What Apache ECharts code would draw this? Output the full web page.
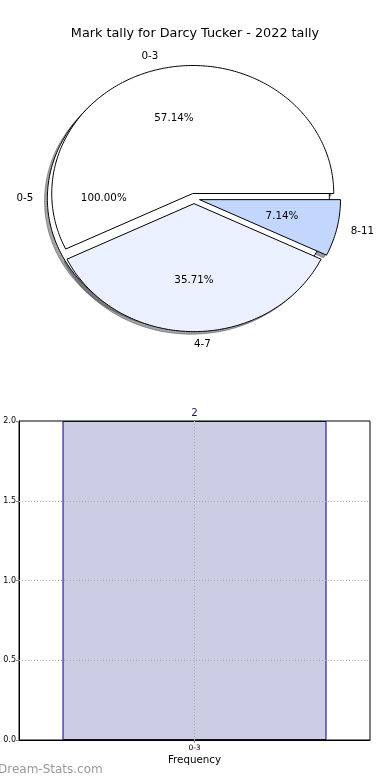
<!DOCTYPE html>
<html><head><meta charset="utf-8">
<script src="https://cdn.jsdelivr.net/npm/echarts@6/dist/echarts.min.js"></script>
<style>html,body{margin:0;padding:0;background:#fff}#c{width:390px;height:780px}</style>
</head><body><div id="c"></div>
<script>
// ---- data ----
const titleText = 'Mark tally for Darcy Tucker - 2022 tally';
const outerCategories = ['0-5'];
const outerValues = [1];
const innerCategories = ['0-3', '4-7', '8-11'];
const innerValues = [8, 5, 1];
const barCategories = ['0-3'];
const barValues = [2];
const yTicks = [0, 0.5, 1.0, 1.5, 2.0];
const watermark = 'Dream-Stats.com';

// ---- styles ----
const outerColors = ['#ffffff'];
const innerColors = ['#ffffff', '#eaf0fd', '#c3d6fd'];
const FONT = 'DejaVu Sans';
const EXPLODE = 0.04;
const PIE_FS = 10.3;

function buildSlices(cats, vals, colors) {
  const total = vals.reduce((a, b) => a + b, 0);
  let cum = 0;
  return vals.map((v, i) => {
    const s = cum / total; cum += v; const e = cum / total;
    return { s: s, e: e, pct: v / total * 100, name: cats[i], color: colors[i] };
  });
}
const slices = buildSlices(outerCategories, outerValues, outerColors)
  .concat(buildSlices(innerCategories, innerValues, innerColors));
const sliceData = slices.map(d => [d.s, d.e]);

function geom(idx) {
  const d = slices[idx];
  const t1 = d.s * 2 * Math.PI, t2 = d.e * 2 * Math.PI, tm = (t1 + t2) / 2;
  return { t1, t2, tm, cx: EXPLODE * Math.cos(tm), cy: EXPLODE * Math.sin(tm), full: (d.e - d.s) > 0.999999 };
}
function wedgePoints(api, g, ox, oy) {
  const pts = [];
  const n = Math.max(8, Math.ceil((g.t2 - g.t1) / (Math.PI / 180)));
  if (!g.full) pts.push(api.coord([g.cx + ox, g.cy + oy]));
  for (let k = 0; k <= n; k++) {
    const t = g.t1 + (g.t2 - g.t1) * k / n;
    pts.push(api.coord([g.cx + ox + Math.cos(t), g.cy + oy + Math.sin(t)]));
  }
  return pts;
}
function shadowColor(hex) {
  const r = parseInt(hex.slice(1, 3), 16), gg = parseInt(hex.slice(3, 5), 16), b = parseInt(hex.slice(5, 7), 16);
  return 'rgba(' + Math.round(r * 0.3) + ',' + Math.round(gg * 0.3) + ',' + Math.round(b * 0.3) + ',0.5)';
}

const chart = echarts.init(document.getElementById('c'), null, { renderer: 'canvas' });
const option = {
  animation: false,
  backgroundColor: '#ffffff',
  title: {
    text: titleText, left: 'center', top: 22,
    textStyle: { fontFamily: FONT, fontSize: 12.8, fontWeight: 'normal', color: '#000' }
  },
  graphic: [{
    type: 'text', left: -2, top: 764,
    style: { text: watermark, fontFamily: FONT, fontSize: 12, fill: '#999999' }
  }],
  grid: [
    { left: 10.7, top: 32.1, width: 366.6, height: 332.8, show: false },
    { left: 19, top: 421, width: 351, height: 319, show: true, borderColor: '#000', borderWidth: 1, backgroundColor: 'transparent' }
  ],
  xAxis: [
    { gridIndex: 0, type: 'value', min: -1.3, max: 1.3, show: false },
    {
      gridIndex: 1, type: 'category', data: barCategories,
      axisLine: { show: true, lineStyle: { color: '#000', width: 1 } },
      axisTick: { show: true, alignWithLabel: true, length: 3, lineStyle: { color: '#888' } },
      axisLabel: { fontFamily: FONT, fontSize: 7.5, color: '#000', margin: 4 },
      splitLine: { show: false },
      name: 'Frequency', nameLocation: 'middle', nameGap: 15,
      nameTextStyle: { fontFamily: FONT, fontSize: 10.3, color: '#000' }
    }
  ],
  yAxis: [
    { gridIndex: 0, type: 'value', min: -1.3, max: 1.3, show: false },
    {
      gridIndex: 1, type: 'value', min: yTicks[0], max: yTicks[yTicks.length - 1], interval: yTicks[1] - yTicks[0],
      axisLine: { show: true, lineStyle: { color: '#000', width: 1 } },
      axisTick: { show: true, length: 3, lineStyle: { color: '#888' } },
      axisLabel: { fontFamily: FONT, fontSize: 8, color: '#000', margin: 3, formatter: v => v.toFixed(1) },
      splitLine: { show: false }
    }
  ],
  series: [
    {
      type: 'custom', name: 'shadows', coordinateSystem: 'cartesian2d', xAxisIndex: 0, yAxisIndex: 0,
      clip: false, silent: true, z: 1, data: sliceData,
      renderItem: function (params, api) {
        const g = geom(params.dataIndex);
        const c = shadowColor(slices[params.dataIndex].color);
        return { type: 'polygon', shape: { points: wedgePoints(api, g, -0.02, -0.02) },
          style: { fill: c, stroke: c, lineWidth: 1 } };
      }
    },
    {
      type: 'custom', name: 'wedges', coordinateSystem: 'cartesian2d', xAxisIndex: 0, yAxisIndex: 0,
      clip: false, silent: true, z: 2, data: sliceData,
      renderItem: function (params, api) {
        const g = geom(params.dataIndex);
        return { type: 'polygon', shape: { points: wedgePoints(api, g, 0, 0) },
          style: { fill: slices[params.dataIndex].color, stroke: '#000', lineWidth: 1 } };
      }
    },
    {
      type: 'custom', name: 'labels', coordinateSystem: 'cartesian2d', xAxisIndex: 0, yAxisIndex: 0,
      clip: false, silent: true, z: 3, data: sliceData,
      renderItem: function (params, api) {
        const d = slices[params.dataIndex];
        const g = geom(params.dataIndex);
        const cs = Math.cos(g.tm), sn = Math.sin(g.tm);
        const pP = api.coord([g.cx + 0.6 * cs, g.cy + 0.6 * sn]);
        const pL = api.coord([g.cx + 1.1 * cs, g.cy + 1.1 * sn]);
        return { type: 'group', children: [
          { type: 'text', x: pP[0], y: pP[1], style: { text: d.pct.toFixed(2) + '%', fontFamily: FONT, fontSize: PIE_FS, fill: '#000', align: 'center', verticalAlign: 'middle' } },
          { type: 'text', x: pL[0], y: pL[1], style: { text: d.name, fontFamily: FONT, fontSize: PIE_FS, fill: '#000', align: (g.cx + 1.1 * cs) > -1e-9 ? 'left' : 'right', verticalAlign: 'middle' } }
        ] };
      }
    },
    {
      type: 'bar', name: 'Frequency', xAxisIndex: 1, yAxisIndex: 1, data: barValues,
      barWidth: 264, silent: true,
      itemStyle: { color: '#ccccE5', borderColor: '#000088', borderWidth: 1 },
      label: { show: true, position: 'top', distance: 3, fontFamily: FONT, fontSize: 10.3, color: '#1a1a5e' },
      markLine: {
        silent: true, symbol: ['none', 'none'], label: { show: false }, animation: false,
        lineStyle: { type: [1, 2], color: '#a8a8a8', width: 1 },
        emphasis: { disabled: true },
        data: yTicks.slice(1, -1).map(v => ({ yAxis: v })).concat(barCategories.map(c => ({ xAxis: c })))
      }
    }
  ]
};
chart.setOption(option);
</script></body></html>
